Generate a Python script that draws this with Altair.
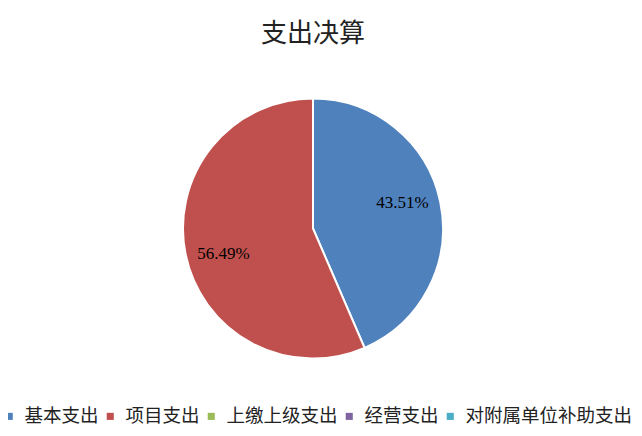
import altair as alt
import pandas as pd

categories = ["基本支出", "项目支出", "上缴上级支出", "经营支出", "对附属单位补助支出"]
values = [43.51, 56.49, 0.0, 0.0, 0.0]
colors = ["#4F81BD", "#C0504D", "#9BBB59", "#8064A2", "#4BACC6"]
title_text = "支出决算"

df = pd.DataFrame({
    "类别": categories,
    "值": values,
    "序": list(range(len(categories))),
    "标签": [f"{v:.2f}%" for v in values],
})

color = alt.Color(
    "类别:N",
    scale=alt.Scale(domain=categories, range=colors),
    sort=categories,
    legend=alt.Legend(
        title=None,
        orient="none",
        direction="horizontal",
        legendX=-8,
        legendY=399,
        padding=0,
        symbolType="square",
        symbolSize=50,
        symbolStrokeWidth=0,
        labelFont="Noto Sans CJK SC",
        labelFontSize=18.5,
        labelColor="#222222",
        labelOffset=6,
        columnPadding=2,
        labelLimit=400,
    ),
)

base = alt.Chart(df).transform_filter("datum['值'] > 0")

pie = base.mark_arc(outerRadius=130, stroke="white", strokeWidth=2).encode(
    theta=alt.Theta("值:Q", stack=True),
    order=alt.Order("序:Q"),
    color=color,
    x=alt.value(305),
    y=alt.value(220.5),
)

labels = base.mark_text(
    radius=93,
    thetaOffset=-0.07,
    font="Liberation Serif",
    fontSize=17,
    color="#000000",
).encode(
    theta=alt.Theta("值:Q", stack=True),
    order=alt.Order("序:Q"),
    text="标签:N",
    x=alt.value(305),
    y=alt.value(220.5),
)

chart = alt.layer(pie, labels).properties(
    width=626,
    height=420,
    autosize=alt.AutoSizeParams(type="none"),
    padding=0,
    title=alt.TitleParams(
        text=title_text,
        font="Noto Sans CJK SC",
        fontSize=26,
        fontWeight="normal",
        color="#222222",
        anchor="middle",
        orient="top",
        baseline="middle",
        offset=0,
        dx=-8,
        dy=52,
    ),
).configure_view(stroke=None)

chart.save("out.html", embed_options={"renderer": "svg", "actions": False})
